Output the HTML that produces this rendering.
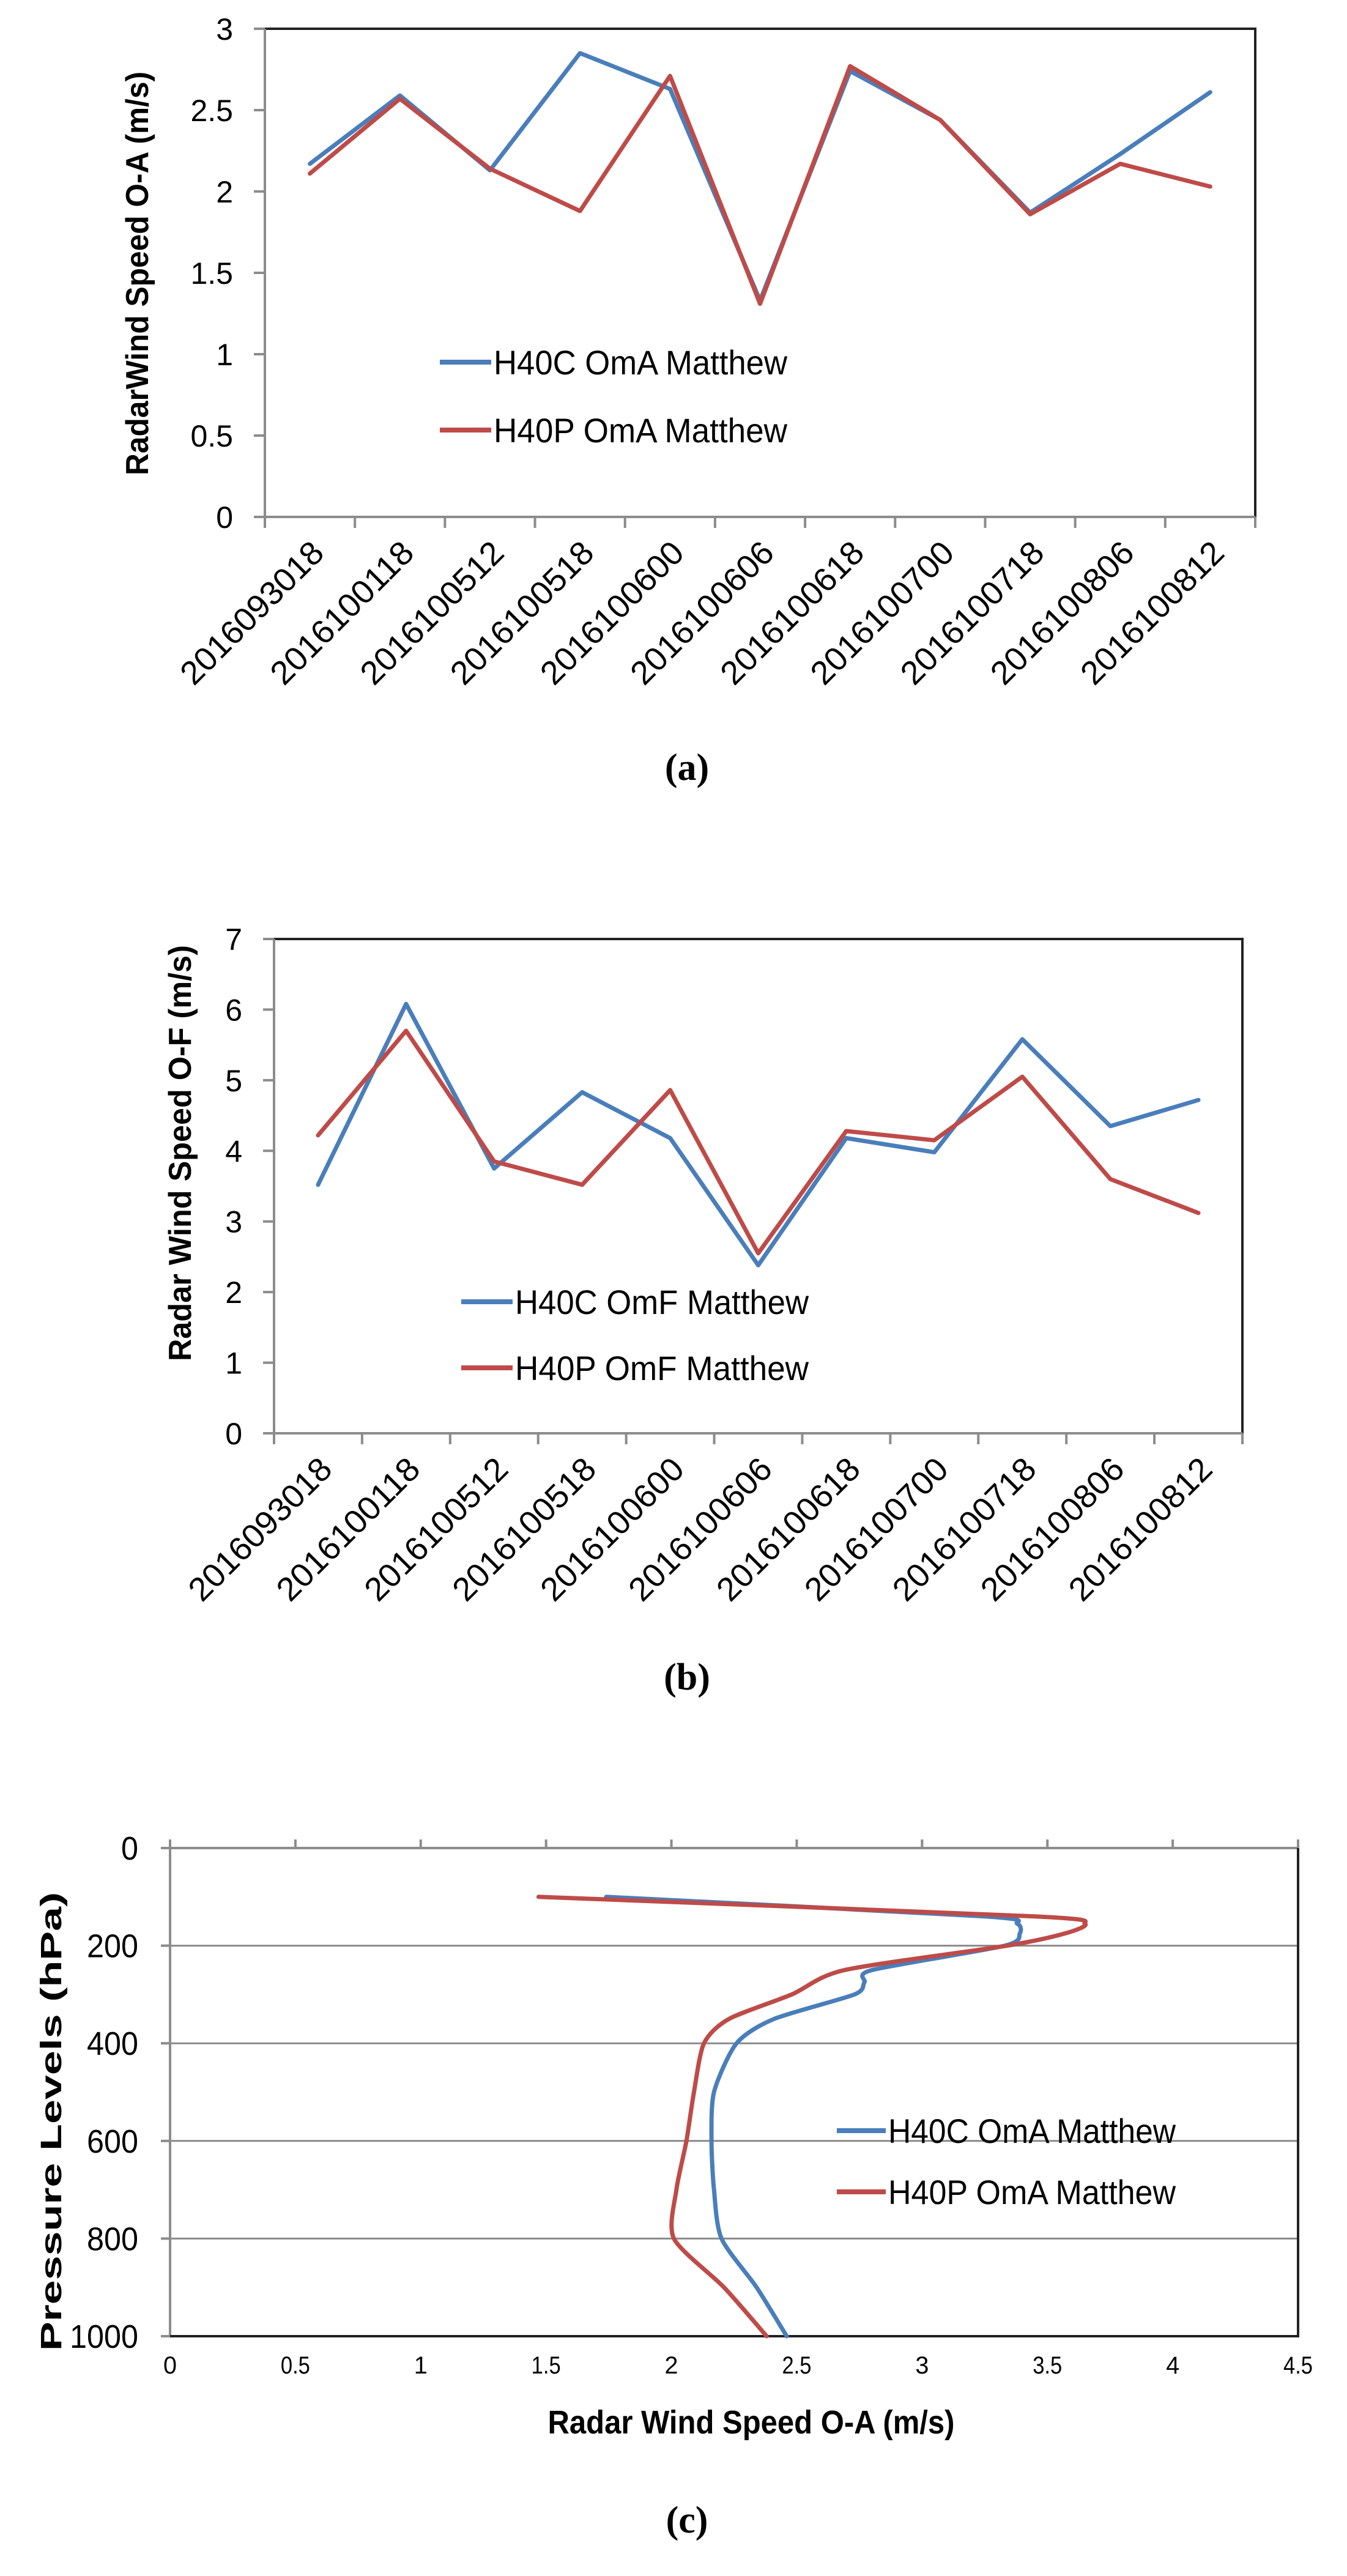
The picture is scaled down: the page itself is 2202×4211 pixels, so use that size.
<!DOCTYPE html>
<html><head><meta charset="utf-8"><style>
html,body{margin:0;padding:0;background:#fff;}
svg{display:block;}
text{font-family:"Liberation Sans",sans-serif;fill:#000;}
</style></head><body>
<svg id="fig" xmlns="http://www.w3.org/2000/svg" width="2202" height="4211" viewBox="0 0 2202 4211">
<rect width="2202" height="4211" fill="#fff"/>
</svg>
<script>
// ---- data ----
const categories = ["2016093018","2016100118","2016100512","2016100518","2016100600","2016100606","2016100618","2016100700","2016100718","2016100806","2016100812"];
const omaBlue = [2.17,2.59,2.13,2.85,2.63,1.33,2.74,2.44,1.87,2.23,2.61];
const omaRed  = [2.11,2.57,2.14,1.88,2.71,1.31,2.77,2.44,1.86,2.17,2.03];
const omaTicks = ["0","0.5","1","1.5","2","2.5","3"];
const omfBlue = [3.52,6.08,3.75,4.83,4.18,2.38,4.18,3.98,5.58,4.35,4.72];
const omfRed  = [4.22,5.70,3.85,3.52,4.86,2.55,4.28,4.15,5.05,3.60,3.12];
const omfTicks = ["0","1","2","3","4","5","6","7"];
const pressBlue = [100,140,155,175,200,250,275,300,350,400,500,600,700,800,900,1000];
const profBlue  = [1.74,3.25,3.38,3.39,3.33,2.80,2.77,2.73,2.41,2.26,2.17,2.16,2.17,2.20,2.34,2.46];
const pressRed  = [100,140,155,175,200,250,300,350,400,500,600,700,800,900,1000];
const profRed   = [1.47,3.45,3.65,3.57,3.34,2.69,2.48,2.23,2.13,2.09,2.06,2.02,2.01,2.21,2.38];
const pressTicks = ["0","200","400","600","800","1000"];
const speedTicks = ["0","0.5","1","1.5","2","2.5","3","3.5","4","4.5"];

const NS="http://www.w3.org/2000/svg";
const svg=document.getElementById('fig');
const BLUE="#4a7ebb", RED="#be4b48", GRAY="#8c8c8c";
function mk(tag,attrs,parent){const e=document.createElementNS(NS,tag);for(const k in attrs)e.setAttribute(k,attrs[k]);(parent||svg).appendChild(e);return e;}

function lineChart(cfg){
  const g=mk('g',{});
  
  
  const L=cfg.L,R=cfg.R,T=cfg.T,B=cfg.B,n=categories.length,step=(R-L)/n;
  const ymax=cfg.ticks.length-1, ystep=+cfg.ticks[1];
  const X=i=>L+step*(i+0.5);
  const Y=v=>B-(v/(ymax*ystep))*(B-T);
  mk('path',{d:`M${L} ${T}H${R}V${B}`,fill:'none',stroke:'#222','stroke-width':4},g);
  const ax=mk('path',{d:`M${L} ${T}V${B}H${R}`,fill:'none',stroke:GRAY,'stroke-width':4},g);
  
  
  cfg.ticks.forEach((t,i)=>{
    const y=Y(i*ystep);
    mk('line',{x1:L-18,x2:L,y1:y,y2:y,stroke:GRAY,'stroke-width':4},g);
    const tx=mk('text',{x:L-52,y:y+18,'text-anchor':'end','font-size':50},g);
    tx.textContent=t;
    
    
  });
  for(let i=0;i<=n;i++){const x=L+step*i;mk('line',{x1:x,x2:x,y1:B,y2:B+18,stroke:GRAY,'stroke-width':4},g);}
  categories.forEach((c,i)=>{
    const ax_=X(i)+26, ay=B+62;
    const t=mk('text',{x:ax_,y:ay,'text-anchor':'end','font-size':54,textLength:305,lengthAdjust:'spacingAndGlyphs',transform:`rotate(-45 ${ax_} ${ay})`},g);
    t.textContent=c;
    
    
  });
  const yt=mk('text',{x:cfg.titleX,y:cfg.titleY,'text-anchor':'middle','font-size':52,'font-weight':'bold',textLength:cfg.titleLen,lengthAdjust:'spacingAndGlyphs',transform:`rotate(-90 ${cfg.titleX} ${cfg.titleY})`},g);
  yt.textContent=cfg.title;
  
  
  [[cfg.blue,BLUE,cfg.lb],[cfg.red,RED,cfg.lr]].forEach(([arr,col,lab],k)=>{
    const p=mk('polyline',{points:arr.map((v,i)=>X(i)+','+Y(v)).join(' '),fill:'none',stroke:col,'stroke-width':7,'stroke-linejoin':'round','stroke-linecap':'round'},g);
    
    
    const ly=k?cfg.legY2:cfg.legY1;
    const ll=mk('line',{x1:cfg.legX,x2:cfg.legX+84,y1:ly,y2:ly,stroke:col,'stroke-width':8},g);
    
    
    const lt=mk('text',{x:cfg.legX+88,y:ly+20,'font-size':56,textLength:480,lengthAdjust:'spacingAndGlyphs'},g);
    lt.textContent=lab;
    
    
  });
  const cap=mk('text',{x:1123,y:cfg.capY,'text-anchor':'middle','font-size':62,'font-weight':'bold'},g);
  cap.setAttribute('style','font-family:"Liberation Serif",serif');
  cap.textContent=cfg.cap;
  
  
}

lineChart({name:'chart-a-oma',L:433,R:2052,T:47,B:845,ticks:omaTicks,blue:omaBlue,red:omaRed,
  title:'RadarWind Speed O-A (m/s)',titleX:242,titleY:447,titleLen:660,
  lb:'H40C OmA Matthew',lr:'H40P OmA Matthew',legX:719,legY1:592,legY2:703,cap:'(a)',capY:1275});
lineChart({name:'chart-b-omf',L:448,R:2031,T:1535,B:2343,ticks:omfTicks,blue:omfBlue,red:omfRed,
  title:'Radar Wind Speed O-F (m/s)',titleX:312,titleY:1885,titleLen:680,
  lb:'H40C OmF Matthew',lr:'H40P OmF Matthew',legX:754,legY1:2128,legY2:2236,cap:'(b)',capY:2762});

// ---- chart c: vertical profile ----
(function(){
  const g=mk('g',{});
  
  
  const L=278,R=2122,T=3021,B=3819;
  const xmax=4.5, pmax=1000;
  const X=v=>L+v/xmax*(R-L);
  const Y=p=>T+p/pmax*(B-T);
  pressTicks.forEach((t,i)=>{
    const y=Y(+t);
    if(i>0&&i<pressTicks.length-1){const gl=mk('line',{x1:L,x2:R,y1:y,y2:y,stroke:'#8a8a8a','stroke-width':3},g);
      
      }
    mk('line',{x1:L-15,x2:L,y1:y,y2:y,stroke:GRAY,'stroke-width':4},g);
    const tx=mk('text',{x:226,y:y+19,'text-anchor':'end','font-size':54,textLength:t.length*28,lengthAdjust:'spacingAndGlyphs'},g);
    tx.textContent=t;
    
    
  });
  mk('line',{x1:L-15,x2:R,y1:T,y2:T,stroke:GRAY,'stroke-width':4},g);
  mk('line',{x1:L,x2:L,y1:T-10,y2:B,stroke:GRAY,'stroke-width':4},g);
  mk('path',{d:`M${R} ${T}V${B}H${L}`,fill:'none',stroke:'#222','stroke-width':4},g);
  speedTicks.forEach(t=>{
    const x=X(+t);
    mk('line',{x1:x,x2:x,y1:T-14,y2:T,stroke:GRAY,'stroke-width':4},g);
    const tx=mk('text',{x:x,y:3880,'text-anchor':'middle','font-size':40,textLength:t.length>1?48:22,lengthAdjust:'spacingAndGlyphs'},g);
    tx.textContent=t;
    
    
  });
  function smooth(pts){
    let d=`M${pts[0][0]} ${pts[0][1]}`;
    for(let i=0;i<pts.length-1;i++){
      const p0=pts[i-1]||pts[i],p1=pts[i],p2=pts[i+1],p3=pts[i+2]||p2;
      const c1=[p1[0]+(p2[0]-p0[0])/8,p1[1]+(p2[1]-p0[1])/8];
      const c2=[p2[0]-(p3[0]-p1[0])/8,p2[1]-(p3[1]-p1[1])/8];
      d+=`C${c1[0]} ${c1[1]} ${c2[0]} ${c2[1]} ${p2[0]} ${p2[1]}`;
    }
    return d;
  }
  [[profBlue,pressBlue,BLUE,'H40C OmA Matthew',3483],[profRed,pressRed,RED,'H40P OmA Matthew',3583]].forEach(([arr,pr,col,lab,ly],k)=>{
    const p=mk('path',{d:smooth(arr.map((v,i)=>[X(v),Y(pr[i])])),fill:'none',stroke:col,'stroke-width':7,'stroke-linecap':'round'},g);
    
    
    const ll=mk('line',{x1:1368,x2:1448,y1:ly,y2:ly,stroke:col,'stroke-width':8},g);
    
    
    const lt=mk('text',{x:1452,y:ly+20,'font-size':56,textLength:470,lengthAdjust:'spacingAndGlyphs'},g);
    lt.textContent=lab;
    
    
  });
  const xt=mk('text',{x:1228,y:3978,'text-anchor':'middle','font-size':54,'font-weight':'bold',textLength:665,lengthAdjust:'spacingAndGlyphs'},g);
  xt.textContent='Radar Wind Speed O-A (m/s)';
  
  
  const yt=mk('text',{x:100,y:3468,'text-anchor':'middle','font-size':48,'font-weight':'bold',textLength:750,lengthAdjust:'spacingAndGlyphs',transform:'rotate(-90 100 3468)'},g);
  yt.textContent='Pressure Levels (hPa)';
  
  
  const cap=mk('text',{x:1123,y:4140,'text-anchor':'middle','font-size':62,'font-weight':'bold'},g);
  cap.setAttribute('style','font-family:"Liberation Serif",serif');
  cap.textContent='(c)';
  
  
})();
</script>
</body></html>
